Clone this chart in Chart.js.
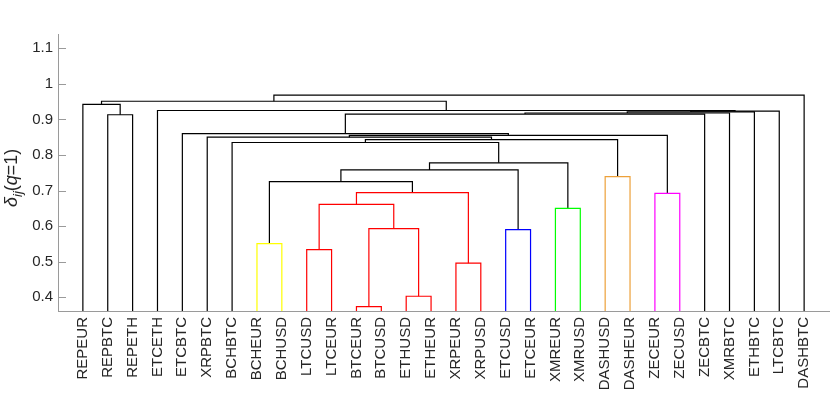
<!DOCTYPE html>
<html>
<head>
<meta charset="utf-8">
<script src="https://cdn.jsdelivr.net/npm/chart.js"></script>
<style>
  html, body { margin: 0; padding: 0; background: #fff; }
</style>
</head>
<body>
<canvas id="dendro" width="830" height="396"></canvas>
<script>
// Hojas, en el orden del eje x
const leafLabels = [
  "REPEUR", "REPBTC", "REPETH", "ETCETH", "ETCBTC", "XRPBTC", "BCHBTC", "BCHEUR",
  "BCHUSD", "LTCUSD", "LTCEUR", "BTCEUR", "BTCUSD", "ETHUSD", "ETHEUR", "XRPEUR",
  "XRPUSD", "ETCUSD", "ETCEUR", "XMREUR", "XMRUSD", "DASHUSD", "DASHEUR", "ZECEUR",
  "ZECUSD", "ZECBTC", "XMRBTC", "ETHBTC", "LTCBTC", "DASHBTC"
];

// Uniones: nodos 0-29 son hojas, la union k crea el nodo 30 + k
const mergeLeft   = [11, 13, 15,  9,  7, 17, 30, 19, 33, 23, 38, 34, 21, 41, 43,  6, 45,  5, 47,  4,  1, 49, 51, 52, 53,  3,  0, 56, 57];
const mergeRight  = [12, 14, 16, 10,  8, 18, 31, 20, 36, 24, 32, 40, 22, 35, 37, 44, 42, 46, 39, 48,  2, 25, 26, 27, 28, 54, 50, 55, 29];
const mergeHeight = [
  0.374, 0.403, 0.496, 0.534, 0.551, 0.590, 0.593, 0.650, 0.661, 0.692,
  0.694, 0.725, 0.739, 0.758, 0.778, 0.835, 0.843, 0.850, 0.855, 0.860,
  0.913, 0.915, 0.918, 0.921, 0.923, 0.925, 0.942, 0.951, 0.968
];

const yTicks = [0.4, 0.5, 0.6, 0.7, 0.8, 0.9, 1.0, 1.1];

// Colores de los grupos (por indice de union), el resto negro
const linkColor = {
  0: "#ff0000", 1: "#ff0000", 2: "#ff0000", 3: "#ff0000", 6: "#ff0000", 8: "#ff0000", 10: "#ff0000",
  4: "#ffff00",
  5: "#0000ff",
  7: "#00ff00",
  9: "#ff00ff",
  12: "#eda13a"
};

const Y_MIN = 0.3615;
const Y_MAX = 1.14;
const TEXT = "#262626";
const AXIS = "#9a9a9a";
const FONT = "'Liberation Sans', Arial, Helvetica, sans-serif";

// Posiciones de nodos a partir de las uniones
const nodeX = leafLabels.map((_, i) => i + 1);
const nodeY = leafLabels.map(() => Y_MIN);
const datasets = [];

mergeLeft.forEach((l, k) => {
  const r = mergeRight[k];
  const h = mergeHeight[k];
  nodeX.push((nodeX[l] + nodeX[r]) / 2);
  nodeY.push(h);
  datasets.push({
    data: [
      { x: nodeX[l], y: nodeY[l] },
      { x: nodeX[l], y: h },
      { x: nodeX[r], y: h },
      { x: nodeX[r], y: nodeY[r] },
    ],
    borderColor: linkColor[k] || "#000000",
    borderWidth: 1.2,
    pointRadius: 0,
    fill: false,
    tension: 0,
  });
});

// Marcas del eje y hacia dentro
const inwardTicks = {
  id: "inwardTicks",
  afterDraw(chart) {
    const { ctx, chartArea, scales } = chart;
    ctx.save();
    ctx.strokeStyle = AXIS;
    ctx.lineWidth = 1;
    scales.y.ticks.forEach((t) => {
      const y = Math.round(scales.y.getPixelForValue(t.value)) + 0.5;
      ctx.beginPath();
      ctx.moveTo(chartArea.left, y);
      ctx.lineTo(chartArea.left + 8, y);
      ctx.stroke();
    });
    ctx.restore();
  },
};

// Titulo del eje y: delta_ij(q=1)
const yTitle = {
  id: "yTitle",
  afterDraw(chart) {
    const ctx = chart.ctx;
    ctx.save();
    ctx.translate(17, 207);
    ctx.rotate(-Math.PI / 2);
    ctx.fillStyle = TEXT;
    ctx.textBaseline = "alphabetic";
    ctx.textAlign = "left";
    let x = 0;
    const parts = [
      { t: "\u03b4", f: "italic 18px " + FONT, dy: 0 },
      { t: "ij", f: "italic 13px " + FONT, dy: 5 },
      { t: "(", f: "18px " + FONT, dy: 0 },
      { t: "q", f: "italic 18px " + FONT, dy: 0 },
      { t: "=1)", f: "18px " + FONT, dy: 0 },
    ];
    parts.forEach((p) => {
      ctx.font = p.f;
      ctx.fillText(p.t, x, p.dy);
      x += ctx.measureText(p.t).width;
    });
    ctx.restore();
  },
};

new Chart(document.getElementById("dendro").getContext("2d"), {
  type: "line",
  data: { datasets },
  options: {
    responsive: false,
    animation: false,
    layout: { padding: { top: 34, right: 1, left: 0, bottom: 0 } },
    plugins: {
      legend: { display: false },
      tooltip: { enabled: false },
    },
    scales: {
      x: {
        type: "linear",
        min: 0,
        max: leafLabels.length + 1,
        afterBuildTicks: (s) => {
          s.ticks = leafLabels.map((_, i) => ({ value: i + 1 }));
        },
        afterFit: (s) => {
          s.height = 85;
        },
        ticks: {
          autoSkip: false,
          minRotation: 90,
          maxRotation: 90,
          padding: 6,
          color: TEXT,
          font: { family: FONT, size: 15 },
          callback: (v) => leafLabels[Math.round(v) - 1] || "",
        },
        grid: { display: false, drawTicks: false },
        border: { color: AXIS, width: 1 },
      },
      y: {
        min: Y_MIN,
        max: Y_MAX,
        afterBuildTicks: (s) => {
          s.ticks = yTicks.map((v) => ({ value: v }));
        },
        afterFit: (s) => {
          s.width = 58;
        },
        ticks: {
          padding: 5,
          color: TEXT,
          font: { family: FONT, size: 15 },
          callback: (v) => String(Math.round(v * 10) / 10),
        },
        grid: { display: false, drawTicks: false },
        border: { color: AXIS, width: 1 },
      },
    },
  },
  plugins: [inwardTicks, yTitle],
});
</script>
</body>
</html>
